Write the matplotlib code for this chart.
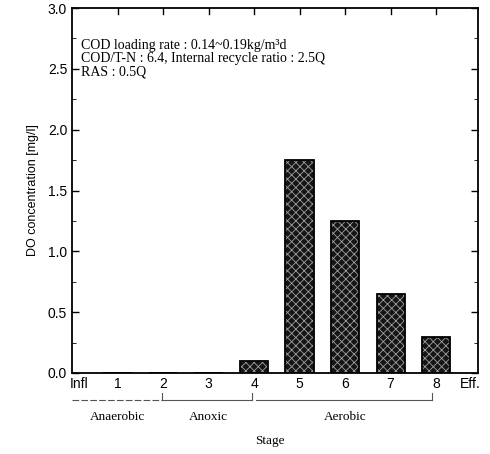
import matplotlib
matplotlib.use('Agg')
import matplotlib.pyplot as plt
import numpy as np

# stage values
stages = ['1', '2', '3', '4', '5', '6', '7', '8']
do_conc = [0.0, 0.0, 0.0, 0.1, 1.75, 1.25, 0.65, 0.3]
zones = ['Anaerobic', 'Anoxic', 'Aerobic']
notes = ['COD loading rate : 0.14~0.19kg/m³d',
         'COD/T-N : 6.4, Internal recycle ratio : 2.5Q',
         'RAS : 0.5Q']

serif = 'Liberation Serif'
sans = 'Liberation Sans'
plt.rcParams['hatch.linewidth'] = 0.6

fig = plt.figure(figsize=(4.9, 4.54), dpi=100)
ax = fig.add_axes([72 / 490, 1 - 373 / 454, 406 / 490, 365 / 454])

x = np.arange(1, len(stages) + 1)
# dark fill with light dot hatch, then black outline on top
ax.bar(x, do_conc, width=0.62, color='#151515', edgecolor='#a0a0a0',
       hatch='xxxx', linewidth=0)
ax.bar(x, do_conc, width=0.62, fill=False, edgecolor='black', linewidth=1.3)

ax.set_xlim(0, 8.92)
ax.set_ylim(0, 3.0)
ax.set_yticks(np.arange(0, 3.01, 0.5))
ax.set_yticklabels(['0.0', '0.5', '1.0', '1.5', '2.0', '2.5', '3.0'],
                   family=sans, fontsize=10)
ax.set_yticks(np.arange(0, 3.01, 0.25), minor=True)
ax.set_xticks(list(x) + [0.15, 8.75])
ax.set_xticklabels(stages + ['Infl', 'Eff.'], family=sans, fontsize=10)
ax.tick_params(direction='in', top=True, right=True, length=5, width=1)
ax.tick_params(which='minor', direction='in', right=True, length=3)
ax.tick_params(axis='x', pad=3, length=0)
for s in ax.spines.values():
    s.set_linewidth(1.3)

# top ticks only
for xi in x:
    ax.plot([xi, xi], [3.0, 2.95], color='black', lw=1, clip_on=False)

ax.set_ylabel('DO concentration [mg/l]', family=sans, fontsize=9, labelpad=6)

for i, t in enumerate(notes):
    ax.text(0.022, 0.898 - i * 0.036, t, transform=ax.transAxes,
            family=serif, fontsize=10, va='center')

# zone brackets below the stage numbers
trans = ax.get_xaxis_transform()
spans = [(0.0, 1.98), (1.98, 3.96), (4.05, 7.9)]
centers = [1.0, 3.0, 6.0]
by = -0.075
for (a, b), c, name in zip(spans, centers, zones):
    ax.plot([a, b], [by, by], color='#555555', lw=0.8, transform=trans,
            clip_on=False, ls=(0, (6, 2)) if name == 'Anaerobic' else '-')
    ax.plot([b, b], [by, by + 0.02], color='#555555', lw=0.8,
            transform=trans, clip_on=False)
    ax.text(c, by - 0.045, name, transform=trans, ha='center', va='center',
            family=serif, fontsize=9.5)

ax.text(4.35, -0.185, 'Stage', transform=trans, ha='center', va='center',
        family=serif, fontsize=9.5)

plt.savefig('out.png', dpi=100)
